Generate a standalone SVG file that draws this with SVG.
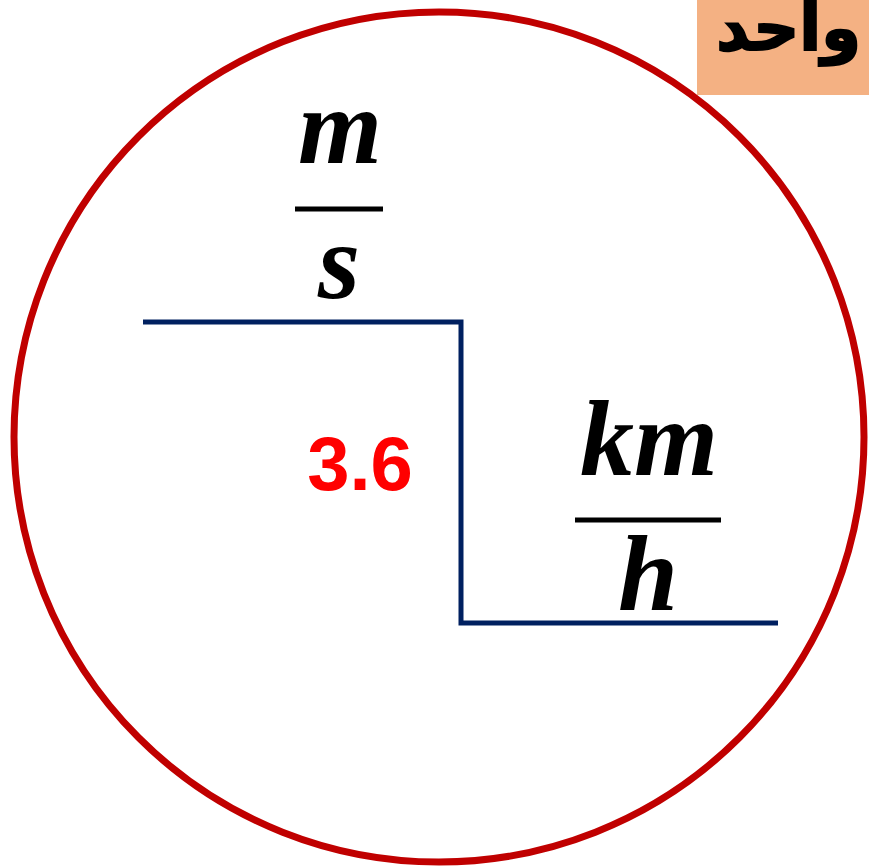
<svg xmlns="http://www.w3.org/2000/svg" width="869" height="868" viewBox="0 0 869 868">
<style>
.u{font-family:"Liberation Serif","DejaVu Serif",serif;font-weight:bold;font-style:italic;font-size:108px;fill:#000;text-anchor:middle}
.bar{stroke:#000;stroke-width:5}
</style>
<rect width="869" height="868" fill="#fff"/>
<g id="circle"><circle cx="439" cy="437" r="425" fill="none" stroke="#C00000" stroke-width="7"/></g>
<g id="label"><rect x="697" y="0" width="172" height="95" fill="#F4B183"/>
<text x="861" y="50" font-family="'DejaVu Sans',sans-serif" font-weight="bold" font-size="64" text-anchor="end" fill="#000" stroke="#000" stroke-width="2">واحد</text></g>
<g id="connectors"><polyline points="143,322 461,322 461,623 778,623" fill="none" stroke="#002060" stroke-width="5"/></g>
<g id="ms"><text class="u" x="340" y="163">m</text><line class="bar" x1="295" y1="209" x2="383" y2="209"/><text class="u" x="339" y="298">s</text></g>
<g id="kmh"><text class="u" x="649" y="475">km</text><line class="bar" x1="575" y1="520" x2="721" y2="520"/><text class="u" x="648" y="610">h</text></g>
<g id="factor"><text x="360" y="490" font-family="'Liberation Sans',Arial,sans-serif" font-weight="bold" font-size="76" fill="#FF0000" text-anchor="middle">3.6</text></g>
</svg>
